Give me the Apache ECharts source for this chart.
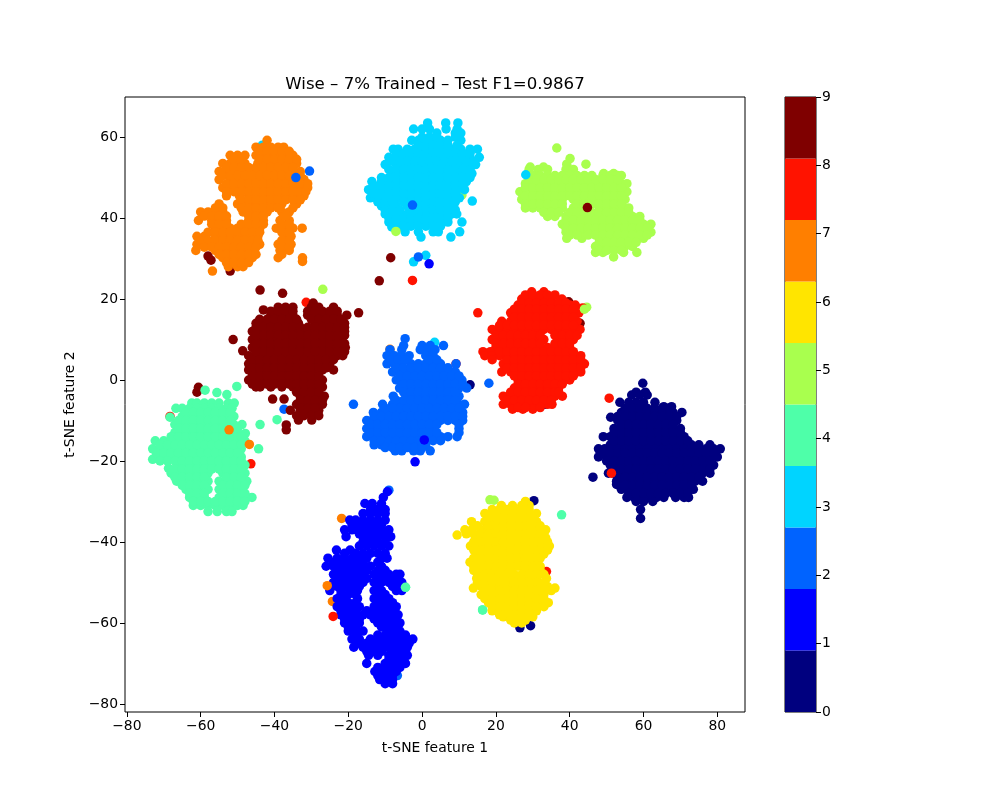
<!DOCTYPE html>
<html><head><meta charset="utf-8">
<style>html,body{margin:0;padding:0;background:#fff}#c{width:1000px;height:800px}</style>
<script src="https://cdn.jsdelivr.net/npm/echarts@6/dist/echarts.min.js"></script>
</head><body><div id="c"></div>
<script>
const chartTitle = 'Wise – 7% Trained – Test F1=0.9867';
const xTicks = [-80,-60,-40,-20,0,20,40,60,80];
const yTicks = [-80,-60,-40,-20,0,20,40,60];
const classColors = ['#00007f','#0000ff','#0063ff','#00d4ff','#4effa9','#a9ff4e','#ffe500','#ff7f00','#ff1300','#7f0000'];
const colorbarSteps = [0.9,0.9,0.9,0.9,0.9,0.9,0.9,0.9,0.9,0.9];
// Each row: y value, then the x values read along that height
const class0 = [[-0.8,59.8],[-3,58,60.5],[-3.7,56.8,59,61],[-5.5,53.6,56,58,60,63.1],[-6.6,67.6,65.5],
[-8,54,56,58,60,62,64,66,68,70.4],[-9.2,51.1],[-10,53,55,57,59,61,63,65,67,69],[-12,52,54,56,58,60,62,64,66,68,70],
[-14,49.1,51,53,55,57,59,61,63,65,67,69,71],[-16,51,53,55,57,59,61,63,65,67,69,71,73,75,78],
[-17,47.8,49.5,51,53,55,57,59,61,63,65,67,69,71,73,75,77,79,80.8],[-19,47.8,50,52,54,56,58,60,62,64,66,68,70,72,74,76,78,80],
[-21,51,53,55,57,59,61,63,65,67,69,71,73,75,77,79],[-23,50.5,52,54,56,58,60,62,64,66,68,70,72,74,76,78],
[-25,52.7,54,56,58,60,62,64,66,68,70,72,74,76],[-27,54,56,58,60,62,64,66,68,70,72,73.5],
[-29,55.5,57.5,59.5,61.5,63.5,65.5,68.7,71,72.2],[-30,58,60,62.5],[-32,59.2],[-34.2,59.2],[-24,46.3],
[-7,55,57,59,61,63,65,67],[-9,53,55,57,59,61,63,65,67,69],[-11,54,56,58,60,62,64,66,68],[-13,52,54,56,58,60,62,64,66,68,70],[-15,52,54,56,58,60,62,64,66,68,70,72],
[-18,49,51,53,55,57,59,61,63,65,67,69,71,73,75,77,79],[-20,50,52,54,56,58,60,62,64,66,68,70,72,74,76,78],[-22,52,54,56,58,60,62,64,66,68,70,72,74,76,78],
[-24,53,55,57,59,61,63,65,67,69,71,73,75],[-26,55,57,59,61,63,65,67,69,71,73],[-28,56,58,60,62,64,66,68,70,72]];
const class1 = [[-27.6,-9.4],[-29,-10.5],[-30.5,-15.5,-13.5,-11],[-33,-16,-14,-12,-10],[-34.6,-19.6,-18,-16,-14,-12,-10],
[-37,-21,-19,-17,-15,-13,-11,-9],[-38.7,-20.6,-16,-14,-12,-10,-8.5],[-41,-17,-15,-13,-11,-9],[-42,-23.2,-19.5],
[-44,-25.5,-23,-21,-19,-17,-15,-11,-9.5],[-46,-26,-24,-22,-20,-18,-16,-14,-11],[-48,-24,-22,-20,-18,-16,-13,-11,-9,-7,-6],
[-50,-24,-22,-20,-18,-16,-13,-11,-9,-7,-5.5],[-52,-25,-22,-19.5,-17.5,-13,-11,-7,-5.5],[-54,-23,-21,-17.5,-13,-11,-9],
[-56,-23,-21,-19,-17,-13,-11,-9,-7],[-58,-22,-20,-18,-16,-14,-12,-10,-8,-6.5],[-60,-21,-19,-17,-12,-10,-8,-6],
[-62,-20,-18,-16,-9.5,-7.5,-6],[-64,-19,-17,-14,-12,-10,-8,-6,-4,-2.5],[-66,-18.5,-16,-14,-12,-10,-8,-6,-4],
[-68,-14.5,-12,-9,-7,-5,-4],[-70,-15,-10,-8,-6,-4.5],[-72,-12.8,-11,-9,-7],[-74,-11.5,-9.5,-8],[-75,-10,-8],
[-32,-14,-12,-10],[-35.8,-19,-17,-15,-13,-11],[-38,-17,-15,-13,-11,-9.5],[-40,-16,-14,-12,-10],[-42.8,-21,-18,-16,-14,-12,-10],[-45,-24,-22,-20,-18,-16,-12],
[-47,-23,-21,-19,-17,-15,-12,-10],[-49,-23,-21,-19,-17,-15,-12,-10,-8,-6.5],[-51,-23,-21,-19,-17,-12,-8,-6.5],[-53,-22,-20,-18,-12,-10],[-55,-22,-20,-18,-12,-10,-8],
[-57,-22,-20,-18,-15,-13,-11,-9,-7.5],[-59,-21,-19,-17,-13,-11,-9,-7],[-61,-20,-18,-11,-9,-7],[-63,-18,-12,-10,-8,-6,-4.5],[-65,-17,-15,-13,-11,-9,-7,-5,-3.5],
[-67,-15,-13,-11,-8,-6,-4.5],[-69,-9,-7,-5],[-71,-12,-10,-8,-6],[-73,-12,-10,-8]];
const class2 = [[10.2,-4.6],[8.5,-5,0,2.2,5.8],[7.5,-8.7,-5.5,-0.5,1.5,3.5],[6,-9.5,-7.5,-5.5,-3.5,1,3],[4,-9.5,-7.5,-5.5,-3,-1,1,3,5,9.2],
[2,-8,-6,-4,-2,0,2,4,6,8,9],[0,-7,-5,-3,-1,1,3,5,7,9,10.8],[-2,-6.1,-4,-2,0,2,4,6,8,10,12.1],[-4,-7.8,-4,-2,0,2,4,6,8,10],
[-6,-10.7,-8,-6,-4,-2,0,2,4,6,8,10,11.5,-18.6],[-8,-13.2,-11,-9,-7,-5,-3,-1,1,3,5,7,9,11],
[-10,-15,-13,-11,-9,-7,-5,-3,-1,1,3,5,7,9,11],[-12,-15,-13,-11,-9,-7,-5,-3,-1,1,3,10],[-14,-15,-13,-11,-9,-7,-5,-3,-1,1,3,5,7,9.5],
[-16,-13,-11,-9,-7,-5,-3,-1,1],[-17.5,-7.3,-5.5,-2.3,-0.5,2.2],[-0.8,18.1],
[5,-8.5,-6.5,-4.5,2,4],[3,-7,-5,-3,-1,1,3,5,7],[1,-6,-4,-2,0,2,4,6,8,10],[-1,-5,-3,-1,1,3,5,7,9,11],[-3,-5,-3,-1,1,3,5,7,9],[-5,-7,-5,-3,-1,1,3,5,7,9],
[-7,-10,-8,-6,-4,-2,0,2,4,6,8,10],[-9,-13,-11,-9,-7,-5,-3,-1,1,3,5,7,9,11],[-11,-14,-12,-10,-8,-6,-4,-2,0,2,4,10],[-13,-14,-12,-10,-8,-6,-4,-2,0,2,4,10],
[-15,-13,-11,-9,-7,-5,-3,-1,1,3,5],[-16.7,-10,-8,-6,-4,-2,0]];
const class3 = [[63.5,1.5,6.4,9.7],[62,-2.3,0,2,6.5,9.5],[61,4,9,10.5],[59.2,-2.8,-1,1,3,5,7,10.5],[57,-7.8,-6.5,-4,-2,0,2,4,6,8,10.5,13,15],
[55,-9,-7,-5,-3,-1,1,3,5,7,9,11,13,15.5],[53.2,-10,-7,-5,-3,-1,1,3,5,7,9,11,13,14.5],[51,-8,-6,-4,-2,0,2,4,6,8,10,12,13.5],
[49,-13.6,-11,-9,-7,-5,-3,-1,1,3,5,7,9,11,12],[47,-14.5,-12.5,-10.5,-8.5,-6.5,-4.5,-2.5,-0.5,1.5,3.5,5.5,7.5,9.5,11.5],
[45,-14,-12,-10,-8,-6,-4,-2,0,2,4,6,8,10.1],[44.2,13.6],[43,-11,-9,-7,-4,-2,0,2,4,6,8],[41,-10,-8,-6,-4,-2,0,2,4,6,8,9.4],
[39,-9,-7,-5,-3,-1,1,3,5,7,10.8],[37.8,-8.2,-6],[36.6,-4.6,-1,3,4.4,10.2],[35.3,-0.3,7.8],[30.8,1],[29.2,-2.3],
[60,0,2,4,9],[58,-1,1,3,5,7,9.5],[56,-7,-5,-3,-1,1,3,5,7,9,11,13],[54,-8,-6,-4,-2,0,2,4,6,8,10,12,14],[52,-9,-7,-5,-3,-1,1,3,5,7,9,11,13],
[50,-11,-9,-7,-5,-3,-1,1,3,5,7,9,11,13],[48,-13,-11,-9,-7,-5,-3,-1,1,3,5,7,9,11],[46,-13,-11,-9,-7,-5,-3,-1,1,3,5,7,9],[44,-12,-10,-8,-5,-3,-1,1,3,5,7,9],
[42,-10,-8,-6,-3,-1,1,3,5,7,9],[40,-9,-7,-5,-3,-1,1,3,5,7],[38,-7,-5,-3,-1,1,3,5]];
const class4 = [[-1.6,-50.2],[-2.5,-58.8],[-3.1,-55.6],[-3.6,-52.9],[-5.7,-62.4,-61,-59,-57,-55,-52.5,-50.9],[-7,-66.7,-65,-63,-61,-59,-57,-55,-53,-51.5],
[-9,-65,-63,-61,-59,-57,-55,-53,-51],[-9.2,-68.3],[-11,-67,-65,-63,-61,-59,-57,-55,-53,-51,-48.8,-43.9],[-9.8,-39.3],
[-13,-67,-65,-63,-61,-59,-57,-55,-53,-51,-50],[-13.2,-47.9],[-15,-72.3,-70,-68,-66,-64,-62,-60,-58,-56,-54,-52,-50,-48],
[-17,-73,-71,-69,-67,-65,-63,-61,-59,-57,-55,-53,-51,-49,-44.3],[-19,-72,-70,-68,-66,-64,-62,-60,-58,-56,-54,-52,-50,-49],[-19.6,-73],
[-21,-66,-64,-62,-60,-58,-56,-54,-52,-50,-48],[-21.8,-68.7],[-23,-68,-66,-64,-62,-60,-58,-54,-52,-50,-48],
[-25,-66.5,-64,-62,-60,-58,-55,-53,-51,-49,-47.5],[-27,-64,-62,-60,-58,-55,-53,-51,-49],[-29,-63,-61,-59,-55,-53,-51,-49,-47.5,-46.1],
[-31,-62,-60,-58,-56,-54,-52,-50,-48.5],[-32.5,-58,-55.5,-53,-51.5],[-56.8,16.4],[-33.3,37.8],[-51.2,-4.5],
[-8,-64,-62,-60,-58,-56,-54,-52],[-10,-66,-64,-62,-60,-58,-56,-54,-52],[-12,-66,-64,-62,-60,-58,-56,-54,-52,-50],[-14,-68,-66,-64,-62,-60,-58,-56,-54,-52,-50,-49],
[-16,-71,-69,-67,-65,-63,-61,-59,-57,-55,-53,-51,-49],[-18,-72,-70,-68,-66,-64,-62,-60,-58,-56,-54,-52,-50],[-20,-71,-69,-67,-65,-63,-61,-59,-57,-55,-53,-51,-49],
[-22,-67,-65,-63,-61,-59,-57,-55,-53,-51,-49],[-24,-67,-65,-63,-61,-59,-53,-51,-49],[-26,-65,-63,-61,-59,-54,-52,-50,-48],[-28,-63,-61,-59,-54,-52,-50,-48],[-30,-62,-60,-58,-56,-54,-52,-50,-48]];
const class5 = [[57.3,36.5],[54.7,40.1],[53.3,39.2,44.4],[52.6,29.3,32.9],[52,29,31.5,34,39,41],[51,49.2,51.9],[50.5,30,32,34,36,38,40,42,44,46,49,51,53,54],
[48.5,28,30,32,34,36,38,40,42,44,46,48,50,52,54,55.5],[46.5,26.5,28.5,30.5,32.5,34.5,36.5,38.5,40.5,42.5,44.5,46.5,48.5,50.5,52.5,55.5],
[44.6,27,28,30,32,34,36,38,41,43,45,47,49,51,53,55],[42.5,28,30,32,34,36,38,41,43,45,48,50,52,54,56],[40.4,34,36,39,41,43,45,47,49,51,53,55,57,59],
[38.5,38,40,42,44,46,48,50,52,54,56,58,60,62],[36.5,39,41,44,46,48,50,52,54,56,58,60,62],[35,39.2,43.3,48,50,52,54,56,58,60],
[33,47,49,51,53,55,57],[31.5,47,49,54.6,58.2],[30.4,51.9],
[49.5,29,31,33,35,37,39,41,43,45,47,49,51,53],[47.5,28,30,32,34,36,38,40,42,44,46,48,50,52,54],[45.5,28,30,32,34,36,38,40,42,44,46,48,50,52,54],
[43.5,28,30,32,34,36,38,42,44,46,48,50,52,54],[41.4,33,35,37,40,42,44,46,48,50,52,54,56],[39.5,39,41,43,45,47,49,51,53,55,57,59],
[37.5,39,41,43,45,47,49,51,53,55,57,59,61],[35.8,40,42,45,47,49,51,53,55,57,59,61],[34,48,50,52,54,56,58],[32,48,50,52,54]];
const class6 = [[-30,28],[-31,21.5,24.5,27,29],[-33,17,19,21,23,25,27,29,31],[-35,13.4,17,19,21,23,25,27,29,31],[-37,11.6,13.5,16,18,20,22,24,26,28,30,32,33.5],
[-38.3,9.5],[-39,15,17,19,21,23,25,27,29,31,33.5],[-41,13.1,15,17,19,21,23,25,27,29,31,33,34.5],[-43,15,17,19,21,23,25,27,29,31,33],
[-45,13,15,17,19,21,23,25,27,29,31],[-47,14,16,18,20,22,24,28,30,32],[-49,14.8,17,19,21,23,25,27,29,31,33.7],[-51,16,18,20,22,24,26,28,30,32,34],
[-51.4,13.9,36],[-53,16,18,20,22,24,26,28,30,32,33],[-55,18,20,22,24,26,28,30,32,34.2],[-57,19,21,23,25,27,29,31],[-58.5,22,24,26,28,30],[-60,25,27],
[-32,19,21,23,25,27,29],[-34,18,20,22,24,26,28,30],[-36,15,18,20,22,24,26,28,30,32],[-38,12,14,16,18,20,22,24,26,28,30,32],[-40,14,16,18,20,22,24,26,28,30,32,34],
[-42,14,16,18,20,22,24,26,28,30,32,34],[-44,14,16,18,20,22,24,26,28,30,32],[-46,14,16,18,20,22,24,26,28,30,32],[-48,15,17,19,21,23,25,27,29,31,33],
[-50,15,17,19,21,23,25,27,29,31,33],[-52,17,19,21,23,25,27,29,31,33,35],[-54,17,19,21,23,25,27,29,31,33],[-56,19,21,23,25,27,29,31,33],[-58,21,23,25,27,29],[-59.3,24,26,28]];
const class7 = [[59.2,-42],[57.5,-45,-43,-41,-39,-37.5],[55.5,-52,-50,-48,-45,-43,-41,-39,-37,-35],[53.5,-54,-52,-50,-48,-44.5,-42,-40,-38,-36,-34],
[51.5,-55,-53,-51,-49,-47,-45,-43,-41,-39,-37,-35,-33],[49.5,-55,-52,-50,-48,-46,-44,-42,-40,-38,-36,-32],[47.5,-54,-52,-50,-48,-46,-44,-42,-40,-38,-36,-34,-32,-31],
[45.5,-53,-49.5,-47,-45,-43,-41,-39,-37,-35,-33,-32],[43.5,-55,-50,-48,-46,-44,-42,-40,-38,-34],[41.5,-60,-58,-56,-54,-48.5,-46,-44,-42,-38,-36],
[39.4,-60.6,-57,-55,-53,-47,-45,-43,-38.5,-36],[37.5,-56,-54,-52,-50,-48,-46,-44,-39.5,-37,-35,-32.5],[35.5,-61,-59,-56,-54,-52,-50,-48,-46,-44.5,-37,-35.5],
[33.5,-61,-59,-57,-55,-53,-51,-49,-47,-45,-44,-39,-37,-35.5],[32,-61.3,-56,-54,-52,-50,-48,-46,-38.5,-36],[30.2,-54,-52,-50,-48,-46,-39,-32.4],
[29.3,-32.4],[28,-52.5,-50,-48.5],[26.9,-56.8],
[56.5,-44,-42,-40,-38,-36],[54.5,-51,-49,-44,-42,-40,-38,-36,-34],[52.5,-53,-51,-49,-47,-45,-43,-41,-39,-37,-35],[50.5,-54,-52,-50,-48,-46,-44,-42,-40,-38,-36,-33],
[48.5,-53,-51,-49,-47,-45,-43,-41,-39,-37,-35,-33,-31],[46.5,-53,-51,-49,-47,-45,-43,-41,-39,-37,-35,-33,-31.5],[44.5,-49,-47,-45,-43,-41,-39,-37,-35,-33],
[42.5,-56,-54,-49,-47,-45,-43,-41,-39,-35],[40.5,-59,-57,-55,-53,-47,-45,-43,-37],[38.5,-57,-55,-53,-49,-47,-45,-43,-38,-36],[36.5,-58,-56,-54,-52,-50,-48,-46,-44,-38,-36],
[34.5,-60,-58,-56,-54,-52,-50,-48,-46,-44.5,-38,-36],[32.8,-59,-57,-55,-53,-51,-49,-47,-45,-38,-36],[31,-55,-53,-51,-49,-47,-45,-38],[29,-53,-51,-49,-47]];
const class8 = [[21.8,29.7,33],[20,27,29,31,33,35,37.9],[18.5,26,28,30,32,34,36,38,40,41.5],[16.6,15.1,24,26,28,30,32,34,36,38,40,42.5],
[14.5,21.6,24,26,28,30,32,34,36,38,40,42],[12.5,19,21,23,25,27,29,31,33,35,37,39,41,42.8],[10,19,21,23,25,27,29,31,33,37,39,41],
[8,20,22,24,26,28,30,32,34,36,38,40],[7,16.5,18.5],[6,17,19,21,23,25,27,29,31,33,35,37,39,41,43],[4,22,24,26,28,30,32,34,36,38,40,42,44],
[2,21.6,24,26,28,30,32,34,36,38,40,42,43],[0,26,28,30,32,34,36,38,40],[-2,25,27,29,31,33,35,37],[-4,22,24,26,28,30,32,34,36,38],
[-6,22,24,26,28,30,32,34,35.2],[-7.2,24.5,27.3,30],
[21,28,30,32,34,36],[19,27,29,31,33,35,37,39],[17.5,25,27,29,31,33,35,37,39,41],[15.5,25,27,29,31,33,35,37,39,41],[13.5,21,23,25,27,29,31,33,35,37,39,41],
[11,20,22,24,26,28,30,32,36,38,40,42],[9,20,22,24,26,28,30,32,36,38,40],[7,21,23,25,27,29,31,33,35,37,39,41],[5,19,23,25,27,29,31,33,35,37,39,41,43],
[3,23,25,27,29,31,33,35,37,39,41,43],[1,25,27,29,31,33,35,37,39,41],[-1,26,28,30,32,34,36,38],[-3,24,26,28,30,32,34,36,37],[-5,23,25,27,29,31,33,35],[-6.8,26,28,32]];
const class9 = [[22.2,-43.9],[21.4,-37.8],[19,-29.5],[18,-39,-37,-35,-30,-28,-24],[17.3,-43],[16.6,-17.2],[16,-41,-39,-37,-35,-31,-29,-27,-25,-23,-20.4],
[14,-45,-43,-41,-39,-37,-35,-33.5,-29,-27,-25,-23,-21],[12,-46,-44,-42,-40,-38,-36,-34,-32,-30,-28,-26,-24,-22,-21],
[10,-51.2,-46,-44,-42,-40,-38,-36,-34,-32,-30,-28,-26,-24,-22],[8,-46,-44,-42,-40,-38,-36,-34,-32,-30,-28,-26,-24,-22,-20.8],[7.2,-48.6],
[6,-47,-45,-43,-41,-39,-37,-35,-33,-31,-29,-27,-25,-23,-21.5],[4,-47,-45,-43,-41,-39,-37,-35,-33,-31,-29,-27,-25],[2.5,-47,-45,-43,-41,-39,-37,-35,-33,-31,-29,-27,-24],
[0,-47,-45,-43,-41,-39,-37,-35,-33,-31,-29,-27],[-1.7,-45,-43.9,-41,-38,-35,-33,-31,-29,-27],[-4,-33,-31,-29,-27,-26.5],[-4.7,-40.5,-37.4],
[-6,-34,-32,-30,-28,-27],[-7.5,-35.7,-33,-31,-29,-28],[-9.9,-33.5,-29.9],[-11.1,-36.8],[-12.3,-36.8],
[17,-41,-39,-37,-35,-31,-29,-27,-25,-23],[15,-44,-42,-40,-38,-36,-34,-30,-28,-26,-24,-22],[13,-45,-43,-41,-39,-37,-35,-33,-31,-29,-27,-25,-23,-21],
[11,-45,-43,-41,-39,-37,-35,-33,-31,-29,-27,-25,-23,-21],[9,-45,-43,-41,-39,-37,-35,-33,-31,-29,-27,-25,-23,-21],[7,-45,-43,-41,-39,-37,-35,-33,-31,-29,-27,-25,-23,-21],
[5,-46,-44,-42,-40,-38,-36,-34,-32,-30,-28,-26,-24],[3,-46,-44,-42,-40,-38,-36,-34,-32,-30,-28,-26],[1,-46,-44,-42,-40,-38,-36,-34,-32,-30,-28],
[-1,-46,-44,-42,-40,-38,-36,-34,-32,-30,-28],[-3,-34,-32,-30,-28],[-5,-33,-31,-29,-27],[-7,-33,-31,-29],[-8.8,-34,-32,-30,-28]];
// Stray points of one class lying inside or beside another class: [x, y, class]
const straysBelow = [[-43.3,58,3],[-57.2,29.6,9],[-58,30.6,9],[-52,26.9,9],[-30.5,51.6,2],[-60.6,-1.8,9],[-61,-3,9],[-68.3,-9,8],[-46.4,-20.7,8],[-37.4,-7.2,2],
[-8.7,7.6,7],[3.4,9.3,3],[1.2,6,3],[13,-1.2,0],[9.2,4,8],[33.3,-6,0],[39.7,19.3,9],[42.8,14,9],[44.6,18,5],[43.5,17.8,8],[-6.7,-73,2],[-9,-27.2,2],[-21.8,-34.2,7],[-24.3,-54.7,7],
[-4.5,-51.2,4],[33.7,-47.3,8],[26.5,-61.2,0],[29.4,-60.7,0],[30.3,-29.8,0],[16.4,-56.8,4],[18.4,-29.6,5],[19.5,-29.7,5],[-31.4,19.2,8],[10.8,45.7,5]];
const straysAbove = [[-34.2,50,2],[-2.6,43.2,2],[-7.1,36.7,5],[-8.5,30.2,9],[-11.6,24.5,9],[-2.6,24.6,8],[-1,30.4,2],[1.9,28.7,1],[28.1,50.7,3],[44.8,42.6,9],
[-26.9,22.4,5],[-52.3,-12.3,7],[-46.8,-15.9,7],[0.6,-14.8,1],[-1.9,-20.2,1],[44,17.5,5],[50.7,-4.5,8],[51.3,-23,8],[-25.7,-50.8,7],[-24.1,-58.4,8],[52.7,-25.8,0]];

function expand(rows){const out=[];rows.forEach(r=>{for(let i=1;i<r.length;i++)out.push([r[i],r[0]]);});return out;}
const allClasses=[class0,class1,class2,class3,class4,class5,class6,class7,class8,class9];
const SIZE=9.5, font='"DejaVu Sans"';
const ink='#000';
function strayData(list){return list.map(p=>({value:[p[0],p[1]],itemStyle:{color:classColors[p[2]],opacity:1}}));}
const series=[
 {type:'scatter',xAxisIndex:0,yAxisIndex:0,symbolSize:SIZE,z:2,silent:true,itemStyle:{opacity:1},data:strayData(straysBelow)}
];
allClasses.forEach((rows,i)=>series.push({type:'scatter',name:String(i),xAxisIndex:0,yAxisIndex:0,symbolSize:SIZE,z:3,silent:true,
  itemStyle:{color:classColors[i],opacity:1},data:expand(rows)}));
series.push({type:'scatter',xAxisIndex:0,yAxisIndex:0,symbolSize:SIZE,z:4,silent:true,itemStyle:{opacity:1},data:strayData(straysAbove)});
colorbarSteps.forEach((v,i)=>series.push({type:'bar',xAxisIndex:1,yAxisIndex:1,stack:'cb',barWidth:'100%',silent:true,
  itemStyle:{color:classColors[i]},data:[v]}));
const fmt=v=>String(v).replace('-','\u2212');
const tickStyle={show:true,length:5,inside:false,lineStyle:{color:ink,width:1}};
const labelStyle={color:ink,fontFamily:font,fontSize:13.9,margin:7};
const chart=echarts.init(document.getElementById('c'),null,{renderer:'canvas'});
chart.setOption({
 animation:false,backgroundColor:'#fff',
 title:{text:chartTitle,left:430,top:71,textAlign:'center',textStyle:{color:ink,fontFamily:font,fontSize:16.6,fontWeight:'normal'}},
 grid:[{left:125,top:97,width:620,height:615,show:true,borderColor:ink,borderWidth:1,backgroundColor:'#fff'},
       {left:785,top:97,width:31,height:615,show:true,borderColor:ink,borderWidth:1}],
 xAxis:[{type:'value',gridIndex:0,min:-80.5,max:87.5,splitLine:{show:false},axisLine:{show:false,onZero:false},
   axisTick:Object.assign({},tickStyle,{customValues:xTicks}),
   axisLabel:Object.assign({},labelStyle,{customValues:xTicks,formatter:fmt,showMinLabel:true,showMaxLabel:true}),
   name:'t-SNE feature 1',nameLocation:'middle',nameGap:29,nameTextStyle:{color:ink,fontFamily:font,fontSize:13.9}},
  {type:'category',gridIndex:1,data:['bar'],show:false}],
 yAxis:[{type:'value',gridIndex:0,min:-82,max:69.9,splitLine:{show:false},axisLine:{show:false,onZero:false},
   axisTick:Object.assign({},tickStyle,{customValues:yTicks}),
   axisLabel:Object.assign({},labelStyle,{customValues:yTicks,formatter:fmt,showMinLabel:true,showMaxLabel:true}),
   name:'t-SNE feature 2',nameLocation:'middle',nameGap:43,nameTextStyle:{color:ink,fontFamily:font,fontSize:13.9}},
  {type:'value',gridIndex:1,position:'right',min:0,max:9,interval:1,splitLine:{show:false},axisLine:{show:false,onZero:false},
   axisTick:tickStyle,axisLabel:Object.assign({},labelStyle,{margin:6})}],
 series:series
});
</script></body></html>
